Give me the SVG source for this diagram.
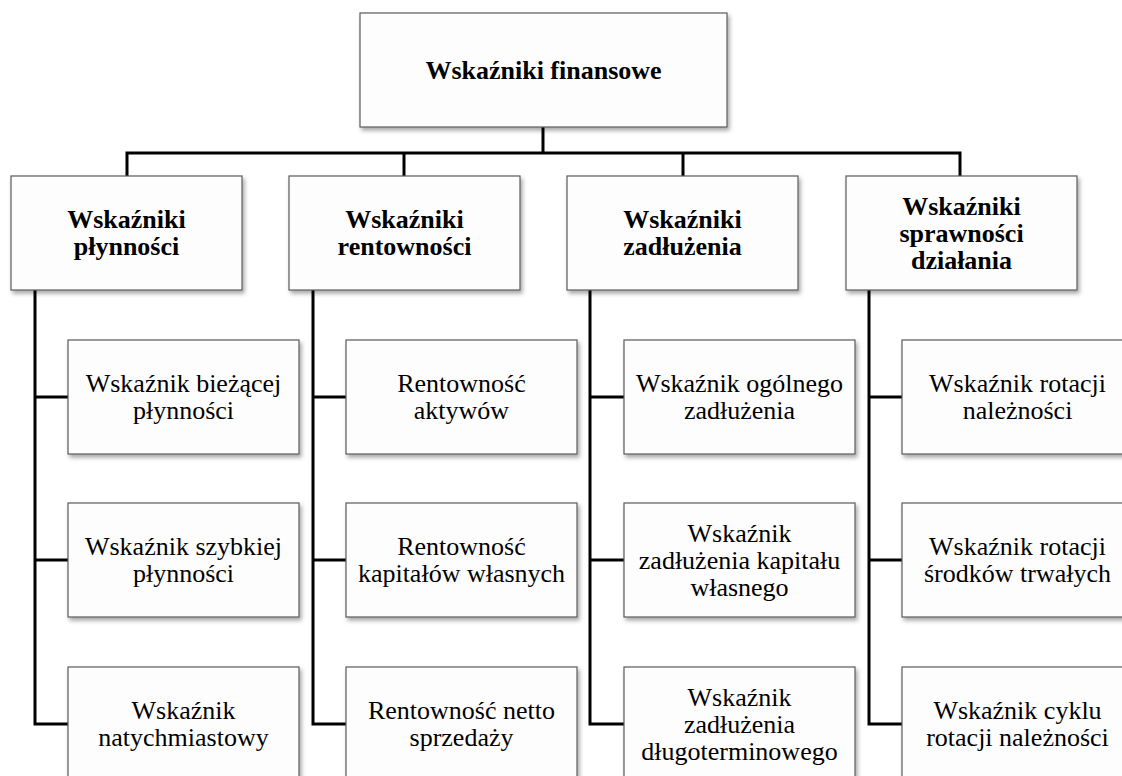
<svg xmlns="http://www.w3.org/2000/svg" width="1122" height="776" viewBox="0 0 1122 776">
  <style>
    text { font-family: "Liberation Serif", "Times New Roman", Times, Tinos, "Noto Serif", "DejaVu Serif", FreeSerif, "Nimbus Roman", serif; }
    .box { fill: #fdfdfd; stroke: #5a5a5a; stroke-width: 1.2; filter: url(#shadow); }
    .head { font-size: 26px; font-weight: bold; fill: #000; text-anchor: middle; }
    .item { font-size: 26px; fill: #000; text-anchor: middle; }
    .link { fill: none; stroke: #000; stroke-width: 3; }
  </style>
  <defs>
    <filter id="shadow" x="-10%" y="-10%" width="125%" height="130%">
      <feDropShadow dx="2" dy="3" stdDeviation="2" flood-color="#000" flood-opacity="0.35"/>
    </filter>
  </defs>
  <rect width="1122" height="776" fill="#ffffff"/>

  <!-- connectors -->
  <g id="connectors" class="link">
    <path d="M543 127 V153"/>
    <path d="M127 176 V153 H960 V176"/>
    <path d="M404 153 V176"/>
    <path d="M683 153 V176"/>
    <!-- column trunks with stubs to each child -->
    <path d="M35 290 V724 H68 M35 397 H68 M35 560 H68"/>
    <path d="M313 290 V724 H346 M313 397 H346 M313 560 H346"/>
    <path d="M590 290 V724 H624 M590 397 H624 M590 560 H624"/>
    <path d="M869 290 V724 H902 M869 397 H902 M869 560 H902"/>
  </g>

  <!-- root -->
  <g id="root">
    <rect class="box" x="360" y="13" width="367" height="114"/>
    <text class="head" x="543.5" y="79">Wskaźniki finansowe</text>
  </g>

  <!-- level 1 -->
  <g id="plynnosc">
    <rect class="box" x="11" y="176" width="231" height="114"/>
    <text class="head" x="126.5" y="228">Wskaźniki</text>
    <text class="head" x="126.5" y="255">płynności</text>
  </g>
  <g id="rentownosc">
    <rect class="box" x="289" y="176" width="231" height="114"/>
    <text class="head" x="404.5" y="228">Wskaźniki</text>
    <text class="head" x="404.5" y="255">rentowności</text>
  </g>
  <g id="zadluzenie">
    <rect class="box" x="567" y="176" width="231" height="114"/>
    <text class="head" x="682.5" y="228">Wskaźniki</text>
    <text class="head" x="682.5" y="255">zadłużenia</text>
  </g>
  <g id="sprawnosc">
    <rect class="box" x="846" y="176" width="231" height="114"/>
    <text class="head" x="961.5" y="214.5">Wskaźniki</text>
    <text class="head" x="961.5" y="241.5">sprawności</text>
    <text class="head" x="961.5" y="268.5">działania</text>
  </g>

  <!-- column 1 -->
  <g id="biezaca">
    <rect class="box" x="68" y="340" width="231" height="114"/>
    <text class="item" x="183.5" y="392">Wskaźnik bieżącej</text>
    <text class="item" x="183.5" y="419">płynności</text>
  </g>
  <g id="szybka">
    <rect class="box" x="68" y="503" width="231" height="114"/>
    <text class="item" x="183.5" y="555">Wskaźnik szybkiej</text>
    <text class="item" x="183.5" y="582">płynności</text>
  </g>
  <g id="natychmiastowy">
    <rect class="box" x="68" y="667" width="231" height="114"/>
    <text class="item" x="183.5" y="719">Wskaźnik</text>
    <text class="item" x="183.5" y="746">natychmiastowy</text>
  </g>

  <!-- column 2 -->
  <g id="roa">
    <rect class="box" x="346" y="340" width="231" height="114"/>
    <text class="item" x="461.5" y="392">Rentowność</text>
    <text class="item" x="461.5" y="419">aktywów</text>
  </g>
  <g id="roe">
    <rect class="box" x="346" y="503" width="231" height="114"/>
    <text class="item" x="461.5" y="555">Rentowność</text>
    <text class="item" x="461.5" y="582">kapitałów własnych</text>
  </g>
  <g id="ros">
    <rect class="box" x="346" y="667" width="231" height="114"/>
    <text class="item" x="461.5" y="719">Rentowność netto</text>
    <text class="item" x="461.5" y="746">sprzedaży</text>
  </g>

  <!-- column 3 -->
  <g id="ogolne">
    <rect class="box" x="624" y="340" width="231" height="114"/>
    <text class="item" x="739.5" y="392">Wskaźnik ogólnego</text>
    <text class="item" x="739.5" y="419">zadłużenia</text>
  </g>
  <g id="kapital-wlasny">
    <rect class="box" x="624" y="503" width="231" height="114"/>
    <text class="item" x="739.5" y="541.5">Wskaźnik</text>
    <text class="item" x="739.5" y="568.5">zadłużenia kapitału</text>
    <text class="item" x="739.5" y="595.5">własnego</text>
  </g>
  <g id="dlugoterminowe">
    <rect class="box" x="624" y="667" width="231" height="114"/>
    <text class="item" x="739.5" y="705.5">Wskaźnik</text>
    <text class="item" x="739.5" y="732.5">zadłużenia</text>
    <text class="item" x="739.5" y="759.5">długoterminowego</text>
  </g>

  <!-- column 4 -->
  <g id="rotacja-naleznosci">
    <rect class="box" x="902" y="340" width="231" height="114"/>
    <text class="item" x="1017.5" y="392">Wskaźnik rotacji</text>
    <text class="item" x="1017.5" y="419">należności</text>
  </g>
  <g id="rotacja-srodkow">
    <rect class="box" x="902" y="503" width="231" height="114"/>
    <text class="item" x="1017.5" y="555">Wskaźnik rotacji</text>
    <text class="item" x="1017.5" y="582">środków trwałych</text>
  </g>
  <g id="cykl-rotacji">
    <rect class="box" x="902" y="667" width="231" height="114"/>
    <text class="item" x="1017.5" y="719">Wskaźnik cyklu</text>
    <text class="item" x="1017.5" y="746">rotacji należności</text>
  </g>
</svg>
